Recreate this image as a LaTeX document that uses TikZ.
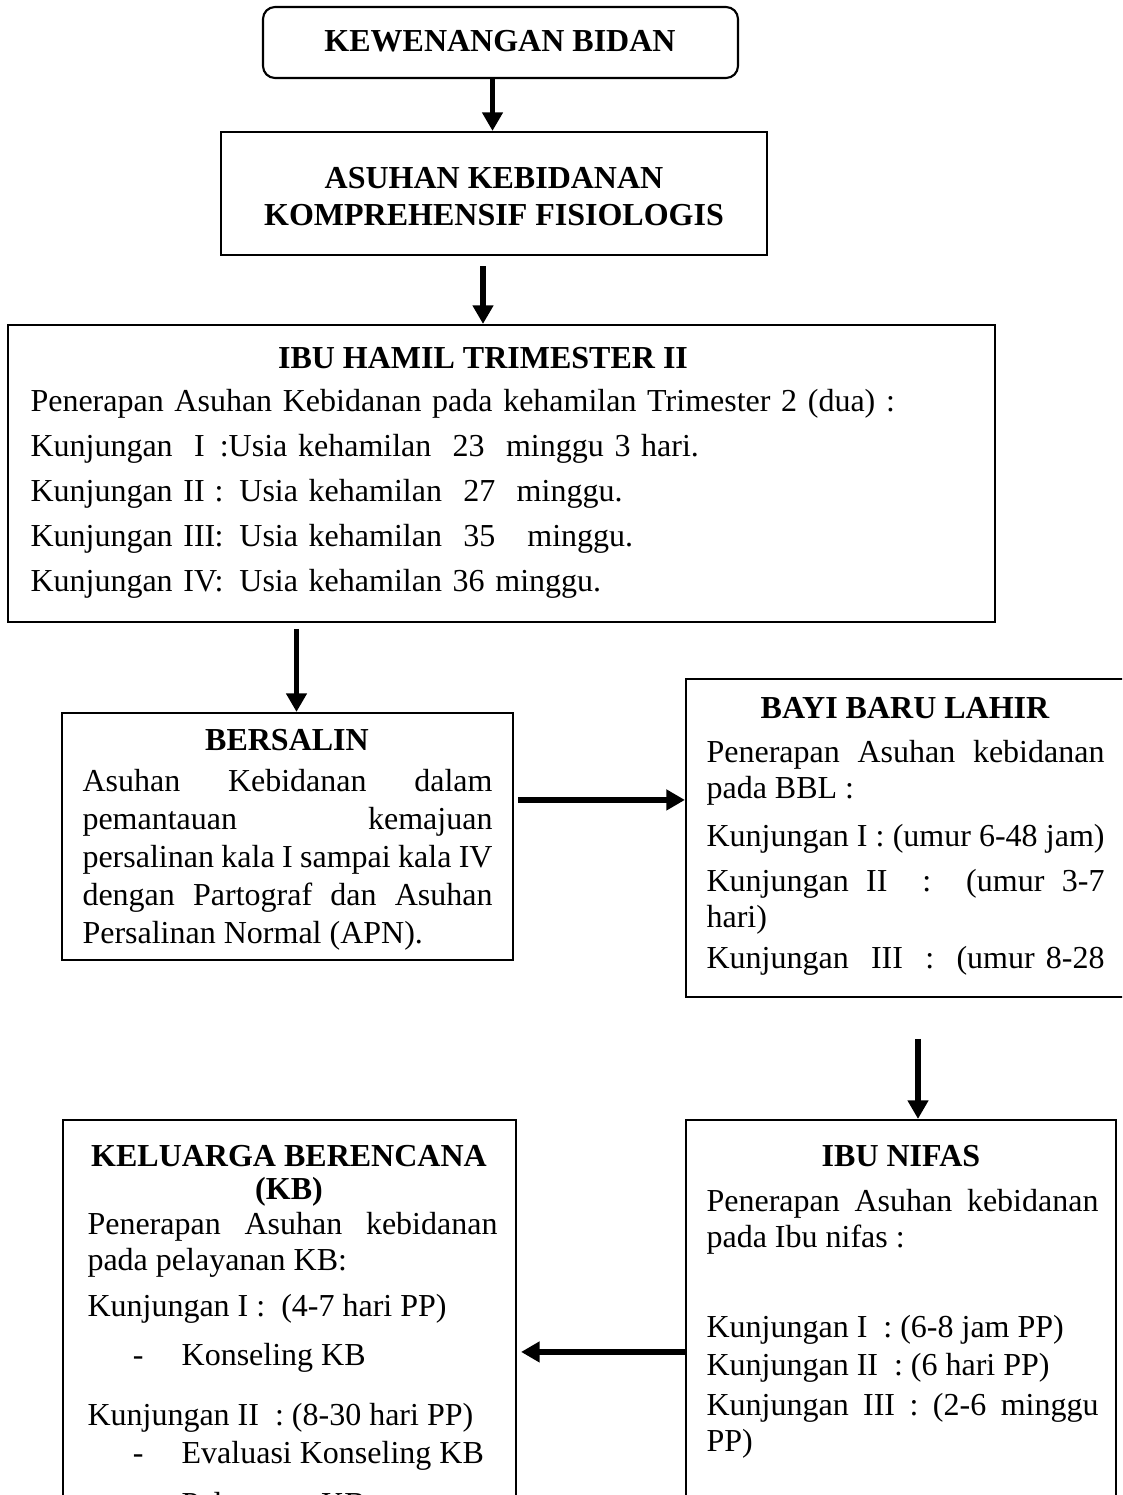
\documentclass[tikz,border=0pt]{standalone}
\usepackage{fontspec}
\setmainfont{Liberation Serif}
\usetikzlibrary{positioning,fit,calc,arrows.meta}
\hyphenpenalty=10000
\exhyphenpenalty=10000

\newcommand{\pgap}[1]{\par\vspace{#1}}
\newcommand{\bul}{\makebox[35.3pt][l]{\hspace{17pt}-}}

\tikzset{
  box/.style={draw, line width=0.8pt, inner sep=0pt},
  head/.style={font=\fontsize{12}{12}\selectfont\bfseries, inner sep=0pt, anchor=base},
  body/.style={font=\fontsize{12}{13.5}\selectfont, align=justify, inner sep=0pt, anchor=base west},
  arr/.style={line width=2.2pt, -{Triangle[length=7pt,width=7.5pt]}}
}

\begin{document}
\begin{tikzpicture}[x=0.375pt, y=-0.375pt]
\useasboundingbox (0,0) rectangle (1122,1495);
\clip (0,0) rectangle (1122,1495);

% top
\node[box, rounded corners=4.5pt, fit={(263,7) (738,78)}] (kewenangan) {};
\node[head] (kewtitle) at (500,52) {KEWENANGAN BIDAN};
\node[box, fit={(221,132) (767,255)}] (asuhan) {};
\node[head] (asuhantitle) at (494,188) {ASUHAN KEBIDANAN};
\node[head] (asuhantitle2) at (494,226) {KOMPREHENSIF FISIOLOGIS};

% ibu hamil
\node[box, fit={(8,325) (995,622)}] (hamil) {};
\node[head] (hamiltitle) at (483,368) {IBU HAMIL TRIMESTER II};
\node[body, align=left, text width=360pt] (hamiltext) at (30,411) {%
  Penerapan Asuhan Kebidanan pada kehamilan Trimester 2 (dua) :\\[3.4pt]
  \makebox[69pt][l]{Kunjungan\ \ I}\hspace{2pt}:Usia kehamilan\ \ 23\ \ minggu 3 hari.\\[3.4pt]
  \makebox[69pt][l]{Kunjungan II}: Usia kehamilan\ \ 27\ \ minggu.\\[3.4pt]
  \makebox[69pt][l]{Kunjungan III}: Usia kehamilan\ \ 35\ \ \ minggu.\\[3.4pt]
  \makebox[69pt][l]{Kunjungan IV}: Usia kehamilan 36 minggu.};

% bersalin
\node[box, fit={(62,713) (513,960)}] (bersalin) {};
\node[head] (bersalintitle) at (287,750) {BERSALIN};
\node[body, text width=153.75pt, font=\fontsize{12}{14.25}\selectfont] (bersalintext) at (82,791) {%
  Asuhan Kebidanan dalam\linebreak pemantauan kemajuan\linebreak
  persalinan kala I sampai kala IV\linebreak dengan Partograf dan Asuhan\linebreak
  Persalinan Normal (APN).};

% bayi baru lahir
\node[box, fit={(686,679) (1126,997)}] (bbl) {};
\node[head] (bbltitle) at (905,718) {BAYI BARU LAHIR};
\node[body, text width=149.25pt] (bbltext) at (706,762) {%
  Penerapan Asuhan kebidanan\linebreak pada BBL :\pgap{4.5pt}
  {\parfillskip=0pt Kunjungan I : (umur 6-48 jam)\par}\vspace{3.4pt}
  Kunjungan II\ \ :\ \ (umur 3-7\linebreak hari)\pgap{2.2pt}
  {\parfillskip=0pt Kunjungan\ \ III\ \ :\ \ (umur 8-28\par}};

% ibu nifas
\node[box, fit={(686,1120) (1116,1600)}] (nifas) {};
\node[head] (nifastitle) at (901,1166) {IBU NIFAS};
\node[body, text width=147pt] (nifastext) at (706,1211) {%
  Penerapan Asuhan kebidanan\linebreak pada Ibu nifas :\pgap{20.25pt}
  Kunjungan I\ \ : (6-8 jam PP)\pgap{1pt}
  Kunjungan II\ \ : (6 hari PP)\pgap{1.5pt}
  Kunjungan III : (2-6 minggu\linebreak PP)};

% keluarga berencana
\node[box, fit={(63,1120) (516,1600)}] (kb) {};
\node[head] (kbtitle) at (289,1166) {KELUARGA BERENCANA};
\node[head] (kbtitle2) at (289,1199) {(KB)};
\node[body, text width=153.75pt] (kbtext) at (87,1234) {%
  Penerapan Asuhan kebidanan\linebreak pada pelayanan KB:\pgap{3.75pt}
  Kunjungan I :\ \ (4-7 hari PP)\pgap{4.9pt}
  \bul Konseling KB\pgap{9pt}
  Kunjungan II\ \ : (8-30 hari PP)\pgap{1pt}
  \bul Evaluasi Konseling KB\pgap{5.5pt}
  \bul Pelayanan KB};

% arrows
\coordinate (a1) at ($(kewenangan.south)+(-8,0)$);
\draw[arr] (a1) -- (a1 |- asuhan.north);
\coordinate (a2) at ($(asuhan.south)+(-11,10)$);
\draw[arr] (a2) -- (a2 |- hamil.north);
\coordinate (a3) at ($(bersalin.north)+(9,-83)$);
\draw[arr] (a3) -- (a3 |- bersalin.north);
\coordinate (a4) at ($(bersalin.north east)+(4,88)$);
\draw[arr] (a4) -- (a4 -| bbl.west);
\coordinate (a5) at ($(nifas.north)+(17,-80)$);
\draw[arr] (a5) -- (a5 |- nifas.north);
\coordinate (a6) at ($(nifas.north west)+(0,233)$);
\draw[arr, shorten >=1.5pt] (a6) -- (a6 -| kb.east);
\end{tikzpicture}
\end{document}
